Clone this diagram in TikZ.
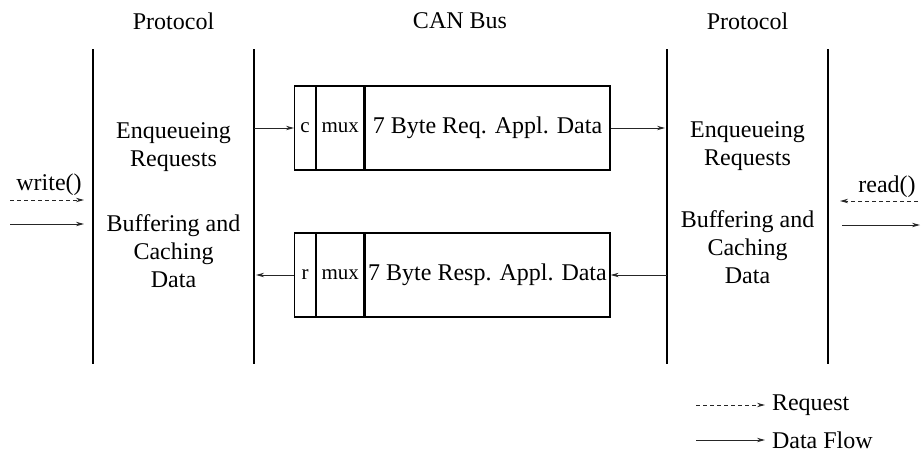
\documentclass[tikz,border=0pt]{standalone}
\usepackage{fontspec}
\setmainfont{Liberation Serif}
\usetikzlibrary{positioning,arrows.meta}

\begin{document}
\begin{tikzpicture}[
  x=0.5pt,y=-0.5pt,
  font=\fontsize{12}{14}\selectfont,
  layer/.style={line width=0.7pt},
  fld/.style={draw,line width=0.6pt,minimum height=42pt,inner sep=0pt,
    font=\fontsize{10.5}{12}\selectfont},
  datfld/.style={fld,font=\fontsize{12}{14}\selectfont},
  txt/.style={align=center},
  flow/.style={-{Stealth[length=4pt,width=2.2pt]},black!85,line width=0.5pt},
  req/.style={flow,dash pattern=on 2pt off 1.5pt},
]
\useasboundingbox (0,0) rectangle (924,455);

% layer borders
\foreach \n/\x in {1/93,2/254,3/667,4/828} {
  \coordinate (l\n t) at (\x,49);
  \coordinate (l\n b) at (\x,364);
  \draw[layer] (l\n t) -- (l\n b);
}

% column titles
\node (tprotl) at (173.5,21) {Protocol};
\node (tcan) at (460,21) {CAN Bus};
\node (tprotr) at (747.5,21) {Protocol};

% request frame
\node[datfld,minimum width=122.5pt] (reqdat) at (487.5,128) {7 Byte Req. Appl. Data};
\node[fld,minimum width=23.5pt,left=0pt of reqdat] (reqmux) {mux};
\node[fld,minimum width=10.5pt,left=0pt of reqmux] (reqc) {c};

% response frame
\node[datfld,minimum width=122.5pt] (respdat) at (487.5,275) {7 Byte Resp. Appl. Data};
\node[fld,minimum width=23.5pt,left=0pt of respdat] (respmux) {mux};
\node[fld,minimum width=10.5pt,left=0pt of respmux] (respr) {r};

\draw[flow] (reqc.west -| l2t) -- (reqc.west);
\draw[flow,shorten >=1pt] (reqdat.east) -- (reqdat.east -| l3t);
\draw[flow] (respdat.east -| l3t) -- (respdat.east);
\draw[flow,shorten >=1pt] (respr.west) -- (respr.west -| l2t);

% protocol tasks
\node[txt] (enql) at (173.5,147) {Enqueueing\\Requests};
\node[txt] (bufl) at (173.5,251) {Buffering and\\Caching\\Data};
\node[txt] (enqr) at (747.5,146) {Enqueueing\\Requests};
\node[txt] (bufr) at (747.5,247) {Buffering and\\Caching\\Data};

% application side
\node (wr) at (49,185) {write()};
\coordinate (wrs) at (10,200);
\coordinate (wre) at (84,200);
\draw[req] (wrs) -- (wre);
\coordinate (wds) at (10,224);
\coordinate (wde) at (84,224);
\draw[flow] (wds) -- (wde);

\node (rd) at (887,187) {read()};
\coordinate (rrs) at (918,201);
\coordinate (rre) at (840,201);
\draw[req] (rrs) -- (rre);
\coordinate (rds) at (842,225);
\coordinate (rde) at (920,225);
\draw[flow] (rds) -- (rde);

% legend
\node[right=0pt] (lgreq) at (765,405) {Request};
\node[right=0pt] (lgdat) at (765,440) {Data Flow};
\coordinate (lgreqs) at (696,405);
\coordinate (lgdats) at (696,440);
\draw[req] (lgreqs) -- (lgreq.west);
\draw[flow] (lgdats) -- (lgdat.west);
\end{tikzpicture}
\end{document}
